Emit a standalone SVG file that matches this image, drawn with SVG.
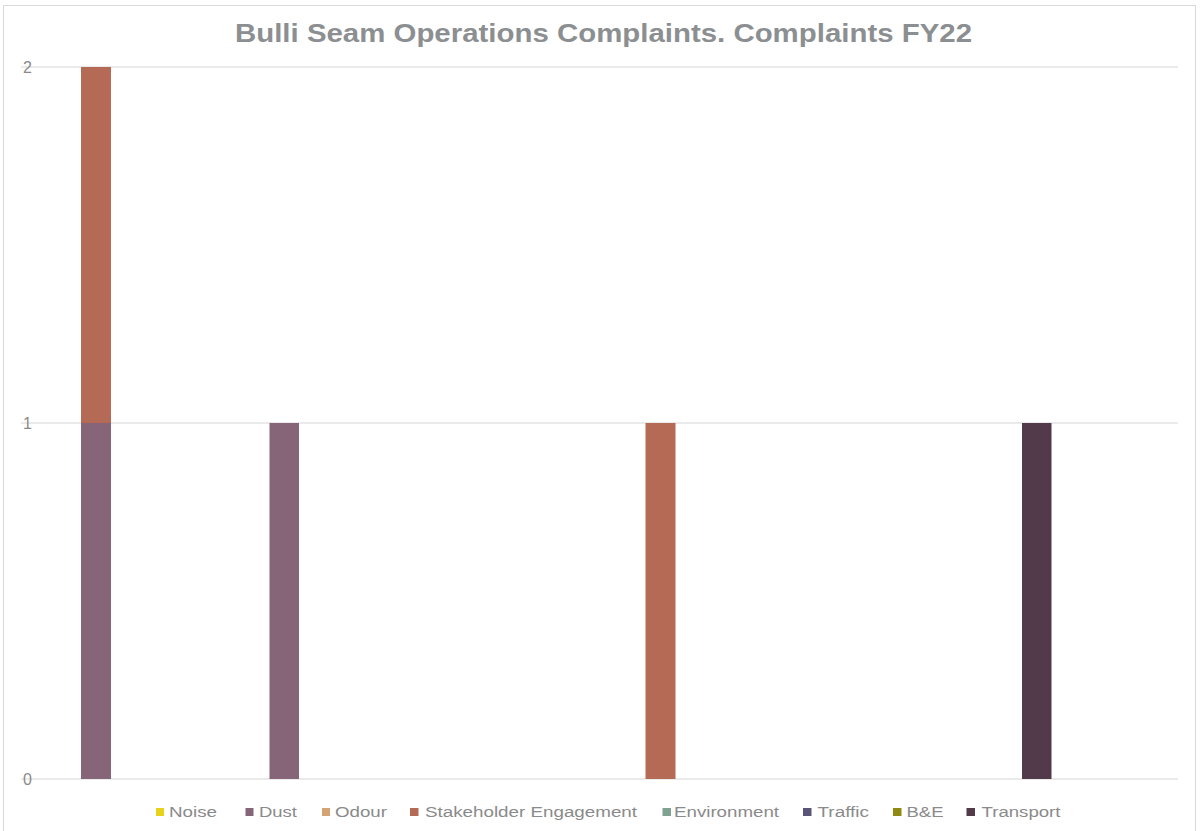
<svg xmlns="http://www.w3.org/2000/svg" width="1200" height="831" viewBox="0 0 1200 831">
<style>
.grid{stroke:#E3E3E3;stroke-width:1.5}
.ax{font-family:"Liberation Sans",Arial,sans-serif;font-size:16px;fill:#8A8A8A}
.lg{font-family:"Liberation Sans",Arial,sans-serif;font-size:15.5px;fill:#8A8A8A}
.title{font-family:"Liberation Sans",Arial,sans-serif;font-size:26px;font-weight:bold;fill:#8C8F91}
</style>
<rect x="0" y="0" width="1200" height="831" fill="#FFFFFF"/>
<rect x="3.5" y="5.5" width="1192" height="840" fill="none" stroke="#D9D9D9" stroke-width="1"/>
<text class="title" x="235" y="42" textLength="737" lengthAdjust="spacingAndGlyphs">Bulli Seam Operations Complaints. Complaints FY22</text>
<g id="gridlines">
<line class="grid" x1="21" y1="67" x2="1178" y2="67"/>
<line class="grid" x1="21" y1="423" x2="1178" y2="423"/>
<line class="grid" x1="21" y1="779" x2="1178" y2="779"/>
</g>
<g id="axis">
<text class="ax" x="27.5" y="72.5" text-anchor="middle">2</text>
<text class="ax" x="27.5" y="428.5" text-anchor="middle">1</text>
<text class="ax" x="27.5" y="784.5" text-anchor="middle">0</text>
</g>
<g id="bars">
<rect x="81" y="67" width="30" height="356" fill="#B46A55"/>
<rect x="81" y="423" width="30" height="356" fill="#866579"/>
<rect x="269.5" y="423" width="29.5" height="356" fill="#866579"/>
<rect x="645.5" y="423" width="30" height="356" fill="#B46A55"/>
<rect x="1022" y="423" width="29.5" height="356" fill="#523A4A"/>
</g>
<g id="legend">
<rect x="156" y="808" width="8" height="8" fill="#E8D21A"/><text class="lg" x="169" y="816.5" textLength="48" lengthAdjust="spacingAndGlyphs">Noise</text>
<rect x="245.5" y="808" width="8" height="8" fill="#866579"/><text class="lg" x="259" y="816.5" textLength="38" lengthAdjust="spacingAndGlyphs">Dust</text>
<rect x="322" y="808" width="8" height="8" fill="#D4A373"/><text class="lg" x="335" y="816.5" textLength="52" lengthAdjust="spacingAndGlyphs">Odour</text>
<rect x="410" y="808" width="8.5" height="8" fill="#B46A55"/><text class="lg" x="425" y="816.5" textLength="212" lengthAdjust="spacingAndGlyphs">Stakeholder Engagement</text>
<rect x="662.5" y="808" width="8.5" height="8" fill="#7FA391"/><text class="lg" x="674" y="816.5" textLength="105" lengthAdjust="spacingAndGlyphs">Environment</text>
<rect x="803" y="808" width="8.5" height="8" fill="#5A5479"/><text class="lg" x="817.5" y="816.5" textLength="51.5" lengthAdjust="spacingAndGlyphs">Traffic</text>
<rect x="893" y="808" width="8.5" height="8" fill="#8F8A14"/><text class="lg" x="906.5" y="816.5" textLength="37" lengthAdjust="spacingAndGlyphs">B&amp;E</text>
<rect x="966.5" y="808" width="8.5" height="8" fill="#523A4A"/><text class="lg" x="981.5" y="816.5" textLength="79" lengthAdjust="spacingAndGlyphs">Transport</text>
</g>
</svg>
